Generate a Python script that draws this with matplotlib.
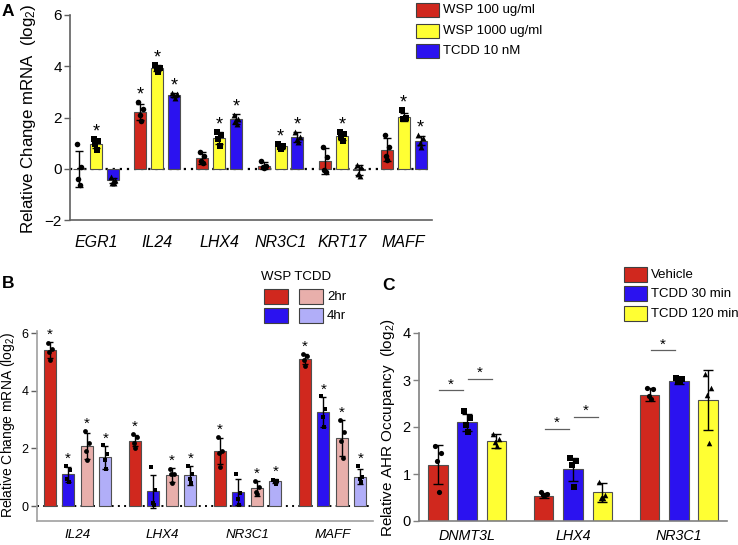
import numpy as np
import matplotlib
matplotlib.use('Agg')
import matplotlib.pyplot as plt
from matplotlib.patches import Rectangle

plt.rcParams['font.family'] = ['Liberation Sans', 'DejaVu Sans']
plt.rcParams['mathtext.fontset'] = 'custom'
plt.rcParams['mathtext.rm'] = 'Liberation Sans'
plt.rcParams['mathtext.it'] = 'Liberation Sans:italic'

# ---------------- Panel A data ----------------
a_genes = ['EGR1', 'IL24', 'LHX4', 'NR3C1', 'KRT17', 'MAFF']
a_labels = ['WSP 100 ug/ml', 'WSP 1000 ug/ml', 'TCDD 10 nM']
a_wsp100_mean = [-0.01, 2.22, 0.42, 0.12, 0.30, 0.74]
a_wsp100_sd = [0.70, 0.30, 0.24, 0.13, 0.50, 0.45]
a_wsp100_pts = [[0.95, 0.05, -0.4, -0.65], [2.6, 2.35, 2.1, 1.85], [0.65, 0.5, 0.3, 0.22],
                [0.3, 0.1, 0.05, 0.02], [0.85, 0.45, -0.05, -0.12], [1.3, 0.85, 0.5, 0.35]]
a_wsp100_star = [0, 1, 0, 0, 0, 0]
a_wsp1000_mean = [0.98, 3.92, 1.20, 0.87, 1.28, 2.02]
a_wsp1000_sd = [0.17, 0.12, 0.22, 0.10, 0.17, 0.15]
a_wsp1000_pts = [[1.15, 1.1, 0.95, 0.72], [4.05, 3.95, 3.9, 3.78], [1.45, 1.3, 1.15, 0.9],
                 [0.98, 0.9, 0.85, 0.78], [1.42, 1.35, 1.25, 1.08], [2.28, 2.0, 1.95, 1.95]]
a_wsp1000_star = [1, 1, 1, 1, 1, 1]
a_tcdd_mean = [-0.45, 2.88, 1.93, 1.23, -0.05, 1.09]
a_tcdd_sd = [0.10, 0.08, 0.20, 0.20, 0.20, 0.18]
a_tcdd_pts = [[-0.32, -0.45, -0.55, -0.55], [2.95, 2.9, 2.88, 2.75], [2.1, 1.95, 1.85, 1.75],
              [1.45, 1.25, 1.15, 1.05], [0.15, 0.05, -0.2, -0.3], [1.3, 1.2, 1.0, 0.85]]
a_tcdd_star = [0, 1, 1, 1, 0, 1]
a_yticks = [-2, 0, 2, 4, 6]

# ---------------- Panel B data ----------------
b_genes = ['IL24', 'LHX4', 'NR3C1', 'MAFF']
b_header = 'WSP TCDD'
b_labels = ['2hr', '4hr']
b_wsp2_mean = [5.40, 2.27, 1.91, 5.10]
b_wsp2_sd = [0.28, 0.20, 0.45, 0.18]
b_wsp2_pts = [[5.65, 5.45, 5.35, 5.05], [2.5, 2.4, 2.2, 2.0], [2.4, 1.9, 1.85, 1.35], [5.28, 5.22, 5.05, 4.85]]
b_wsp2_star = [1, 1, 1, 1]
b_wsp4_mean = [1.11, 0.51, 0.47, 3.26]
b_wsp4_sd = [0.26, 0.57, 0.45, 0.52]
b_wsp4_pts = [[1.4, 1.25, 0.95, 0.85], [1.35, 0.55, 0.1, 0.05], [1.1, 0.45, 0.25, 0.05], [3.8, 3.35, 3.1, 2.75]]
b_wsp4_star = [1, 0, 0, 1]
b_tcdd2_mean = [2.08, 1.09, 0.61, 2.36]
b_tcdd2_sd = [0.46, 0.24, 0.27, 0.62]
b_tcdd2_pts = [[2.6, 2.2, 1.9, 1.6], [1.3, 1.1, 1.1, 0.8], [0.88, 0.65, 0.5, 0.4], [3.0, 2.55, 2.25, 1.65]]
b_tcdd2_star = [1, 1, 1, 1]
b_tcdd4_mean = [1.69, 1.06, 0.87, 1.02]
b_tcdd4_sd = [0.40, 0.33, 0.08, 0.25]
b_tcdd4_pts = [[2.1, 1.8, 1.6, 1.3], [1.38, 1.1, 0.95, 0.8], [0.9, 0.88, 0.85, 0.78], [1.38, 1.0, 0.95, 0.85]]
b_tcdd4_star = [1, 1, 1, 1]
b_yticks = [0, 2, 4, 6]

# ---------------- Panel C data ----------------
c_genes = ['DNMT3L', 'LHX4', 'NR3C1']
c_labels = ['Vehicle', 'TCDD 30 min', 'TCDD 120 min']
c_vehicle_mean = [1.20, 0.54, 2.69]
c_vehicle_sd = [0.42, 0.05, 0.13]
c_vehicle_pts = [[1.6, 1.45, 1.27, 0.62], [0.62, 0.58, 0.55, 0.55], [2.82, 2.8, 2.65, 2.6]]
c_tcdd30_mean = [2.10, 1.10, 2.98]
c_tcdd30_sd = [0.18, 0.25, 0.07]
c_tcdd30_pts = [[2.33, 2.2, 2.05, 1.9], [1.35, 1.28, 1.2, 0.73], [3.05, 3.03, 2.98, 2.95]]
c_tcdd120_mean = [1.70, 0.61, 2.58]
c_tcdd120_sd = [0.15, 0.20, 0.64]
c_tcdd120_pts = [[1.85, 1.75, 1.68, 1.6], [0.82, 0.55, 0.5, 0.48], [3.12, 2.82, 2.69, 1.65]]
c_sig_gene = [0, 0, 1, 1, 2]
c_sig_from = [0, 1, 0, 1, 0]
c_sig_to = [1, 2, 1, 2, 1]
c_sig_y = [2.78, 3.02, 1.96, 2.21, 3.63]
c_yticks = [0, 1, 2, 3, 4]

# ---------------- styles ----------------
RED = '#D0281E'
YEL = '#FFFF33'
BLU = '#2B12F0'
PNK = '#E8AFAB'
LBL = '#B1AEF8'
EDGE = '#505050'

W, H = 738, 545
fig = plt.figure(figsize=(W / 100, H / 100), dpi=100)


def px_axes(l, t, r, b):
    return fig.add_axes([l / W, 1 - b / H, (r - l) / W, (b - t) / H])


def fig_rect(x, y, w, h, color):
    fig.add_artist(Rectangle((x / W, 1 - (y + h) / H), w / W, h / H, transform=fig.transFigure,
                             facecolor=color, edgecolor='#404040', lw=0.8))


def fig_text(x, y, s, **kw):
    fig.text(x / W, 1 - y / H, s, **kw)


OFFS = np.array([-0.18, 0.18, -0.06, 0.06])


def draw_series(ax, x, means, sds, pts, color, marker, width, ms, capsize, stars, star_dy, star_fs):
    ax.bar(x, means, width, color=color, edgecolor=EDGE, linewidth=0.8, zorder=2)
    ax.errorbar(x, means, yerr=sds, fmt='none', ecolor='black', elinewidth=1.0,
                capsize=capsize, capthick=1.0, zorder=3)
    for xi, p, m, s, st in zip(x, pts, means, sds, stars):
        ax.scatter(xi + OFFS * width, p, marker=marker, s=ms, color='black', zorder=4, linewidths=0)
        if st:
            top = max(m + s, max(p))
            ax.annotate('*', xy=(xi, top), xytext=(0, star_dy), textcoords='offset pixels',
                        ha='center', va='center', fontsize=star_fs, zorder=5)


def style_axes(ax, spine_color, tick_fs, lab_fs):
    for s in ['top', 'right']:
        ax.spines[s].set_visible(False)
    for s in ['left', 'bottom']:
        ax.spines[s].set_color(spine_color)
        ax.spines[s].set_linewidth(1.2)
    ax.tick_params(axis='y', direction='out', length=4, width=1.0, color=spine_color,
                   labelsize=tick_fs, pad=2)
    ax.tick_params(axis='x', length=0, labelsize=lab_fs)
    ax.set_facecolor('none')


# ---------------- Panel A ----------------
axA = px_axes(70, 15, 432, 220)
xa = np.arange(len(a_genes))
da, wa = 0.275, 0.195
axA.axhline(0, color='black', ls=(0, (1, 2.2)), lw=1.6, zorder=1)
draw_series(axA, xa - da, a_wsp100_mean, a_wsp100_sd, a_wsp100_pts, RED, 'o', wa, 16, 3, a_wsp100_star, 7, 13)
draw_series(axA, xa, a_wsp1000_mean, a_wsp1000_sd, a_wsp1000_pts, YEL, 's', wa, 16, 3, a_wsp1000_star, 7, 13)
draw_series(axA, xa + da, a_tcdd_mean, a_tcdd_sd, a_tcdd_pts, BLU, '^', wa, 18, 3, a_tcdd_star, 7, 13)
axA.set_xlim(-0.42, 5.46)
axA.set_ylim(-2, 6)
axA.set_yticks(a_yticks)
axA.set_xticks(xa)
axA.set_xticklabels(a_genes, fontstyle='italic')
style_axes(axA, '#606060', 11, 11.5)
axA.tick_params(axis='x', pad=11)
fig_text(29, 119, r'Relative Change mRNA  (log$_\mathrm{2}$)', rotation=90, ha='center', va='center', fontsize=12.2)
fig_text(2, 12, 'A', fontsize=12.5, fontweight='bold', ha='left', va='center')
for i, (lab, col) in enumerate(zip(a_labels, [RED, YEL, BLU])):
    y = 3 + 20.5 * i
    fig_rect(416, y, 23, 14, col)
    fig_text(443, y + 7.5, lab, fontsize=9.5, ha='left', va='center')

# ---------------- Panel B ----------------
axB = px_axes(37, 331, 373, 521)
xb = np.arange(len(b_genes))
db, wb = 0.218, 0.14
axB.axhline(0, color='black', ls=(0, (1, 2.2)), lw=1.4, zorder=1)
draw_series(axB, xb - 1.5 * db, b_wsp2_mean, b_wsp2_sd, b_wsp2_pts, RED, 'o', wb, 12, 2.5, b_wsp2_star, 7, 11)
draw_series(axB, xb - 0.5 * db, b_wsp4_mean, b_wsp4_sd, b_wsp4_pts, BLU, 's', wb, 12, 2.5, b_wsp4_star, 7, 11)
draw_series(axB, xb + 0.5 * db, b_tcdd2_mean, b_tcdd2_sd, b_tcdd2_pts, PNK, 'o', wb, 12, 2.5, b_tcdd2_star, 7, 11)
draw_series(axB, xb + 1.5 * db, b_tcdd4_mean, b_tcdd4_sd, b_tcdd4_pts, LBL, 's', wb, 12, 2.5, b_tcdd4_star, 7, 11)
axB.set_xlim(-0.476, 3.476)
axB.set_ylim(-0.52, 6.07)
axB.set_yticks(b_yticks)
axB.set_xticks(xb)
axB.set_xticklabels(b_genes, fontstyle='italic')
style_axes(axB, '#a0a0a0', 9, 9.6)
axB.tick_params(axis='y', color='#606060')
axB.tick_params(axis='x', pad=6)
fig_text(8, 425, r'Relative Change mRNA (log$_\mathrm{2}$)', rotation=90, ha='center', va='center', fontsize=10)
fig_text(2, 284, 'B', fontsize=12.5, fontweight='bold', ha='left', va='center')
fig_text(296, 277, b_header, fontsize=9.5, ha='center', va='center')
for i, lab in enumerate(b_labels):
    y = 289 + 19 * i
    fig_rect(264, y, 24, 15, [RED, BLU][i])
    fig_rect(299, y, 24, 15, [PNK, LBL][i])
    fig_text(327, y + 8, lab, fontsize=9.5, ha='left', va='center')

# ---------------- Panel C ----------------
axC = px_axes(419, 333, 727, 521)
xc = np.arange(len(c_genes))
dc, wc = 0.274, 0.18
draw_series(axC, xc - dc, c_vehicle_mean, c_vehicle_sd, c_vehicle_pts, RED, 'o', wc, 14, 3.5, [0] * 3, 6, 9)
draw_series(axC, xc, c_tcdd30_mean, c_tcdd30_sd, c_tcdd30_pts, BLU, 's', wc, 14, 3.5, [0] * 3, 6, 9)
draw_series(axC, xc + dc, c_tcdd120_mean, c_tcdd120_sd, c_tcdd120_pts, YEL, '^', wc, 16, 3.5, [0] * 3, 6, 9)
for g, i, j, y in zip(c_sig_gene, c_sig_from, c_sig_to, c_sig_y):
    x0 = g + (i - 1) * dc + 0.01
    x1 = g + (j - 1) * dc - 0.04
    axC.plot([x0, x1], [y, y], color='#606060', lw=0.9, zorder=3)
    axC.annotate('*', xy=((x0 + x1) / 2, y), xytext=(0, 6), textcoords='offset pixels',
                 ha='center', va='center', fontsize=11)
axC.set_xlim(-0.453, 2.453)
axC.set_ylim(0, 4)
axC.set_yticks(c_yticks)
axC.set_xticks(xc)
axC.set_xticklabels(c_genes, fontstyle='italic')
style_axes(axC, '#808080', 10.5, 10.3)
axC.tick_params(axis='x', pad=6)
fig_text(388, 428, r'Relative AHR Occupancy  (log$_\mathrm{2}$)', rotation=90, ha='center', va='center', fontsize=11)
fig_text(382, 286, 'C', fontsize=12.5, fontweight='bold', ha='left', va='center')
for i, (lab, col) in enumerate(zip(c_labels, [RED, BLU, YEL])):
    y = 267 + 19.3 * i
    fig_rect(624, y, 23, 15, col)
    fig_text(651, y + 8, lab, fontsize=9.5, ha='left', va='center')

fig.savefig('out.png', dpi=100)
